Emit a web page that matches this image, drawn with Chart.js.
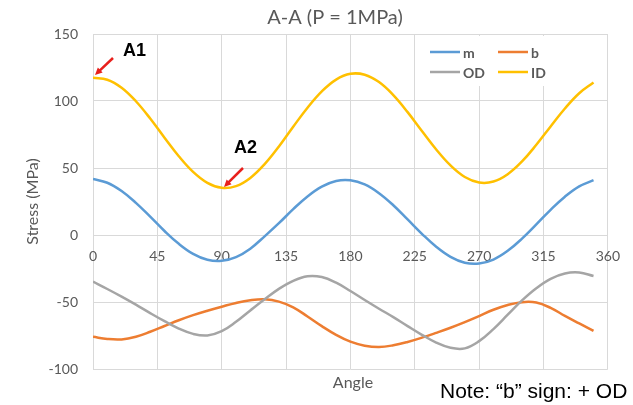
<!DOCTYPE html>
<html>
<head>
<meta charset="utf-8">
<script src="https://cdn.jsdelivr.net/npm/chart.js@4.4.0/dist/chart.umd.min.js"></script>
<style>
    html, body { margin: 0; padding: 0; background: #fff; }
    #wrap { width: 633px; height: 405px; position: relative; }
</style>
</head>
<body>
<div id="wrap"><canvas id="chart"></canvas></div>
<script>
// Data (angle in degrees, stress in MPa)
const angles = [0, 10, 20, 30, 40, 50, 60, 70, 80, 90, 100, 110, 120, 130, 140, 150, 160, 170,
                180, 190, 200, 210, 220, 230, 240, 250, 260, 270, 280, 290, 300, 310, 320, 330, 340, 350];
const mVals = [41.8, 39, 32.8, 24, 13.7, 3, -6.6, -14.1, -18.5, -19.3, -16.5, -10.2, -1, 8.8, 19.3, 28.8, 36.1, 40.3,
               40.8, 37.7, 31.2, 22.2, 11.6, 0.9, -8.8, -16.3, -20.7, -21.3, -18.3, -11.8, -2.7, 7.9, 18.8, 28.6, 36.3, 40.9];
const bVals = [-76, -77.6, -77.9, -75.9, -72.2, -67.9, -63.6, -59.8, -56.5, -53.5, -50.7, -48.7, -48, -49.7, -54, -60.8, -68, -74.5,
               -79.6, -82.6, -83.6, -82.3, -79.8, -76.6, -73, -69.2, -65, -60.5, -55.8, -52.2, -50.1, -50.4, -54.4, -60.4, -66, -71.5];
const odVals = [-34.8, -40.3, -46, -52, -58.3, -64.3, -69.8, -73.8, -75, -71.8, -64.8, -56.3, -48, -40.2, -34.2, -30.8, -31.4, -35.6,
                -41.8, -48.5, -55, -61.3, -68, -74.5, -80.3, -84.2, -84.6, -79.2, -70.2, -59.5, -48.8, -39.7, -32.7, -28.7, -28, -30.6];
const idVals = [117.3, 115.9, 109.9, 99.8, 86.9, 72.6, 58.8, 47.1, 38.9, 35.2, 36.5, 42.6, 52.9, 66.1, 80.8, 95, 107.2, 116,
                120.3, 119.6, 114.1, 104.4, 91.7, 77.6, 63.8, 51.9, 43.3, 39.2, 39.9, 45.4, 54.9, 67.3, 81, 94.4, 105.8, 113.8];
const seriesNames = ['m', 'b', 'OD', 'ID'];
const xTicks = [0, 45, 90, 135, 180, 225, 270, 315, 360];
const yTicks = [-100, -50, 0, 50, 100, 150];

const colors = ['#5B9BD5', '#ED7D31', '#A5A5A5', '#FFC000'];
const textGrey = '#595959';
const gridGrey = '#D9D9D9';

function pts(vals) {
    return angles.map((a, i) => ({ x: a, y: vals[i] }));
}

function makeSet(i, vals) {
    return {
        label: seriesNames[i],
        data: pts(vals),
        showLine: true,
        borderColor: colors[i],
        backgroundColor: colors[i],
        borderWidth: 2.5,
        pointRadius: 0,
        tension: 0.4,
        fill: false,
        order: 4 - i
    };
}

function arrow(ctx, x1, y1, x2, y2) {
    const ang = Math.atan2(y2 - y1, x2 - x1);
    const head = 8;
    ctx.save();
    ctx.strokeStyle = '#E8201C';
    ctx.fillStyle = '#E8201C';
    ctx.lineWidth = 2.5;
    ctx.beginPath();
    ctx.moveTo(x1, y1);
    ctx.lineTo(x2 - Math.cos(ang) * head * 0.8, y2 - Math.sin(ang) * head * 0.8);
    ctx.stroke();
    ctx.beginPath();
    ctx.moveTo(x2, y2);
    ctx.lineTo(x2 - head * Math.cos(ang - 0.45), y2 - head * Math.sin(ang - 0.45));
    ctx.lineTo(x2 - head * Math.cos(ang + 0.45), y2 - head * Math.sin(ang + 0.45));
    ctx.closePath();
    ctx.fill();
    ctx.restore();
}

// title, legend, notes and arrows
const extras = {
    id: 'extras',
    afterDatasetsDraw(chart) {
        const ctx = chart.ctx;
        ctx.save();

        // title
        ctx.fillStyle = textGrey;
        ctx.font = '20px Lato';
        ctx.textAlign = 'center';
        ctx.textBaseline = 'middle';
        ctx.fillText('A-A (P = 1MPa)', 335, 18);

        // legend box
        ctx.fillStyle = '#fff';
        ctx.fillRect(421, 36, 132, 50);
        const pos = [[430, 52], [498, 52], [430, 72], [498, 72]];
        chart.data.datasets.forEach((ds, i) => {
            const [lx, ly] = pos[i];
            ctx.strokeStyle = ds.borderColor;
            ctx.lineWidth = 2.5;
            ctx.beginPath();
            ctx.moveTo(lx, ly);
            ctx.lineTo(lx + 30, ly);
            ctx.stroke();
            ctx.fillStyle = textGrey;
            ctx.font = 'bold 14px Lato';
            ctx.textAlign = 'left';
            ctx.fillText(ds.label, lx + 33, ly + 1);
        });

        // x axis title
        ctx.fillStyle = textGrey;
        ctx.font = '16px Lato';
        ctx.textAlign = 'center';
        ctx.fillText('Angle', 353, 383);

        // note
        ctx.fillStyle = '#000';
        ctx.font = '21px "Liberation Sans"';
        ctx.textAlign = 'left';
        ctx.fillText('Note: \u201Cb\u201D sign: + OD', 440, 392);

        // A1 / A2 markers
        ctx.font = 'bold 18px "Liberation Sans"';
        ctx.fillText('A1', 123, 51);
        ctx.fillText('A2', 234, 148);
        arrow(ctx, 113, 58, 95, 75);
        arrow(ctx, 243, 168, 224, 187);

        ctx.restore();
    }
};

const config = {
    type: 'scatter',
    data: {
        datasets: [
            makeSet(0, mVals),
            makeSet(1, bVals),
            makeSet(2, odVals),
            makeSet(3, idVals)
        ]
    },
    options: {
        responsive: true,
        maintainAspectRatio: false,
        animation: false,
        layout: { padding: { left: 0, right: 24, top: 34, bottom: 36 } },
        plugins: {
            legend: { display: false },
            title: { display: false },
            tooltip: { enabled: false }
        },
        scales: {
            x: {
                type: 'linear',
                position: { y: 0 },
                min: 0,
                max: 360,
                afterBuildTicks: s => { s.ticks = xTicks.map(v => ({ value: v })); },
                grid: { color: gridGrey, lineWidth: 1, drawTicks: false },
                border: { display: false },
                ticks: { color: textGrey, font: { family: 'Lato', size: 14 }, padding: 13, maxRotation: 0 }
            },
            y: {
                min: -100,
                max: 150,
                afterBuildTicks: s => { s.ticks = yTicks.map(v => ({ value: v })); },
                afterFit: s => { s.width = 93; },
                grid: { color: gridGrey, lineWidth: 1, drawTicks: false },
                border: { display: false },
                ticks: { color: textGrey, font: { family: 'Lato', size: 14 }, padding: 15 },
                title: {
                    display: true,
                    text: 'Stress (MPa)',
                    color: textGrey,
                    font: { family: 'Lato', size: 16 },
                    padding: { top: 23, bottom: 0 }
                }
            }
        }
    },
    plugins: [extras]
};

new Chart(document.getElementById('chart'), config);
</script>
</body>
</html>
